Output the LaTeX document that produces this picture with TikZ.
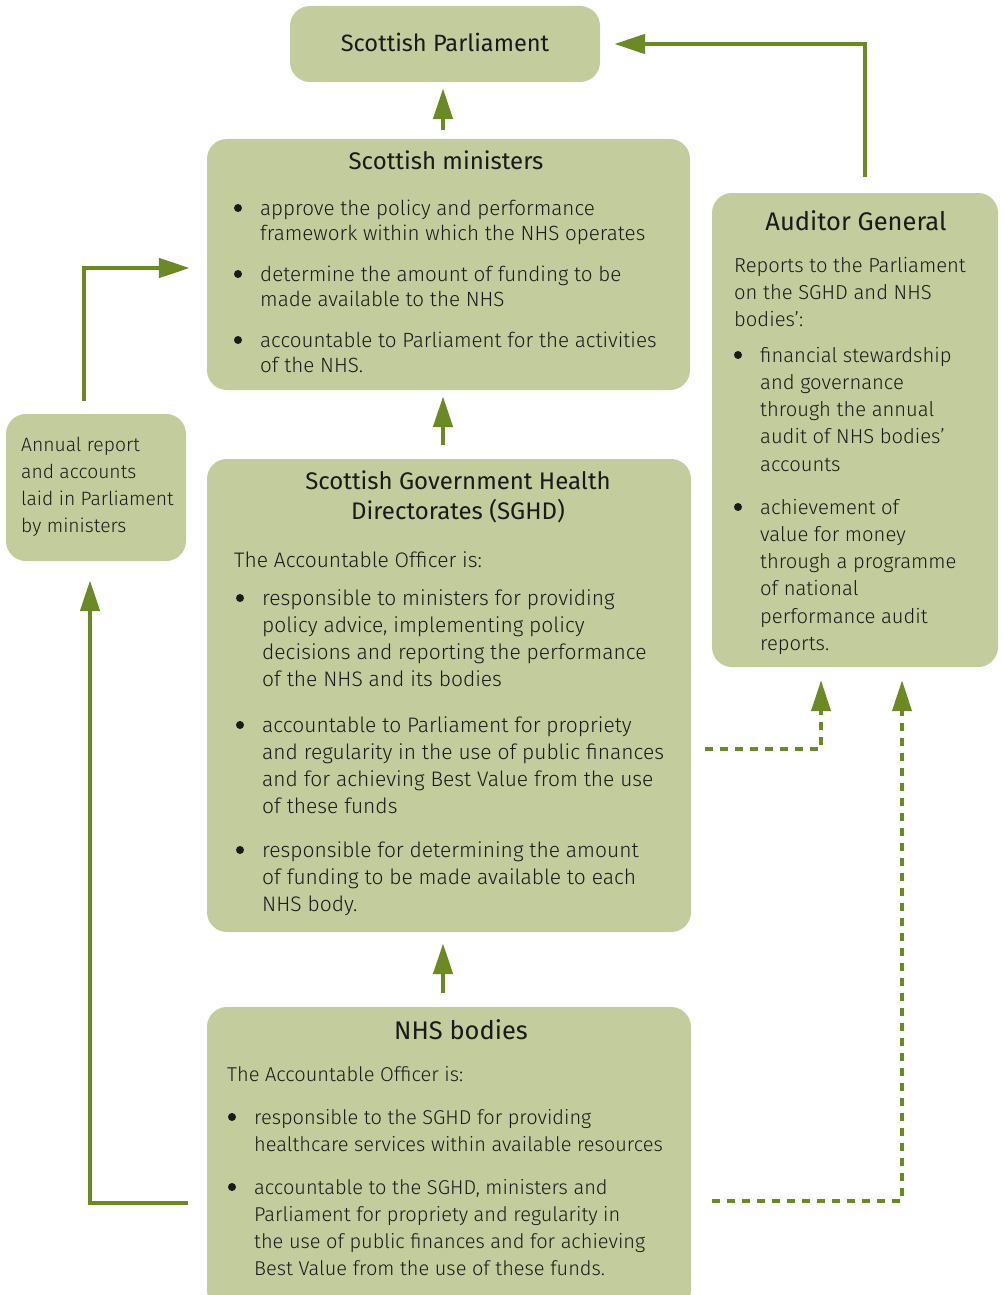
\documentclass[tikz,border=0pt]{standalone}
\usepackage{fontspec}
\setmainfont{Fira Sans}[UprightFont={* Light}, BoldFont={*}]
\newfontfamily\headfont{Fira Sans}
\usetikzlibrary{arrows.meta}
\definecolor{boxfill}{HTML}{C2CC9C}
\definecolor{arrowgreen}{HTML}{6B8A23}
\definecolor{textcol}{HTML}{1A1A1A}
\newcommand\bul[2]{\fill[textcol] (#1,#2-7) circle (4pt);}
\begin{document}
\begin{tikzpicture}[x=1pt,y=-1pt,
  box/.style={fill=boxfill, rounded corners=20pt, draw=none, inner sep=0pt},
  conn/.style={draw=arrowgreen, line width=4.5pt, -{Triangle[length=31pt,width=19pt]}, arrowgreen},
  dotconn/.style={conn, line width=4.2pt, dash pattern=on 8pt off 7pt},
  head/.style={anchor=base, inner sep=0pt, text=textcol, font=\headfont\fontsize{24}{30}\selectfont},
  body/.style={anchor=base west, inner sep=0pt, text=textcol, font=\fontsize{21}{27.3}\selectfont},
  smbody/.style={anchor=base west, inner sep=0pt, text=textcol, font=\fontsize{20.6}{25}\selectfont},
  agbody/.style={body, font=\fontsize{20.2}{27.3}\selectfont},
  annbody/.style={body, font=\fontsize{19.3}{27.3}\selectfont},
  nhsbody/.style={body, font=\fontsize{20}{27.1}\selectfont}]
\useasboundingbox (0,0) rectangle (1004,1295);
% boxes
\node[box, minimum width=310pt, minimum height=76pt] (parl) at (445,44) {};
\node[box, minimum width=483pt, minimum height=251pt] (sm) at (448.5,264.5) {};
\node[box, minimum width=286pt, minimum height=474pt] (ag) at (855,430) {};
\node[box, minimum width=180pt, minimum height=147pt] (ann) at (96,487.5) {};
\node[box, minimum width=484pt, minimum height=473pt] (sghd) at (449,695.5) {};
\node[box, minimum width=484pt, minimum height=303pt] (nhs) at (449,1158.5) {};
% Parliament
\node[head, font=\headfont\fontsize{23.6}{30}\selectfont] (parlt) at (445,52) {Scottish Parliament};
% Scottish ministers
\node[head] (smt) at (446,169) {Scottish ministers};
\bul{238}{215}
\node[smbody] (sm1) at (260,215) {\parbox[t]{420pt}{\raggedright approve the policy and performance\\framework within which the NHS operates}};
\bul{238}{281}
\node[smbody] (sm2) at (260,281) {\parbox[t]{420pt}{\raggedright determine the amount of funding to be\\made available to the NHS}};
\bul{238}{347}
\node[smbody] (sm3) at (260,347) {\parbox[t]{420pt}{\raggedright accountable to Parliament for the activities\\of the NHS.}};
% Auditor General
\node[head, font=\headfont\fontsize{25.5}{30}\selectfont] (agt) at (856,230) {Auditor General};
\node[agbody] (ag0) at (734,272) {\parbox[t]{260pt}{\raggedright Reports to the Parliament\\on the SGHD and NHS\\bodies’:}};
\bul{738}{362}
\node[agbody] (ag1) at (760,362) {\parbox[t]{230pt}{\raggedright financial stewardship\\and governance\\through the annual\\audit of NHS bodies’\\accounts}};
\bul{738}{514}
\node[agbody] (ag2) at (760,514) {\parbox[t]{230pt}{\raggedright achievement of\\value for money\\through a programme\\of national\\performance audit\\reports.}};
% Annual report
\node[annbody] (annt) at (21,451) {\parbox[t]{170pt}{\raggedright Annual report\\and accounts\\laid in Parliament\\by ministers}};
% SGHD
\node[head] (sghdt) at (458,489) {\parbox[t]{440pt}{\centering Scottish Government Health\\Directorates (SGHD)}};
\node[body] (sg0) at (234,567) {The Accountable Officer is:};
\bul{240}{605}
\node[body] (sg1) at (262,605) {\parbox[t]{420pt}{\raggedright responsible to ministers for providing\\policy advice, implementing policy\\decisions and reporting the performance\\of the NHS and its bodies}};
\bul{240}{732}
\node[body] (sg2) at (262,732) {\parbox[t]{420pt}{\raggedright accountable to Parliament for propriety\\and regularity in the use of public finances\\and for achieving Best Value from the use\\of these funds}};
\bul{240}{857}
\node[body] (sg3) at (262,857) {\parbox[t]{420pt}{\raggedright responsible for determining the amount\\of funding to be made available to each\\NHS body.}};
% NHS bodies
\node[head, font=\headfont\fontsize{25.5}{30}\selectfont] (nhst) at (461,1039) {NHS bodies};
\node[nhsbody] (nh0) at (227,1081) {The Accountable Officer is:};
\bul{232}{1124}
\node[nhsbody] (nh1) at (254,1124) {\parbox[t]{430pt}{\raggedright responsible to the SGHD for providing\\healthcare services within available resources}};
\bul{232}{1194}
\node[nhsbody] (nh2) at (254,1194) {\parbox[t]{430pt}{\raggedright accountable to the SGHD, ministers and\\Parliament for propriety and regularity in\\the use of public finances and for achieving\\Best Value from the use of these funds.}};
% connector helper coordinates
\coordinate (a1) at (443,0);
\coordinate (a2) at (865,0);
\coordinate (a3) at (84,268);
\coordinate (a4) at (90,1203);
\coordinate (a5) at (821,749);
\coordinate (a6) at (902,1201);
% connectors
\draw[conn, shorten <=9pt, shorten >=6pt] (a1 |- sm.north) -- (a1 |- parl.south);
\draw[conn, shorten <=14pt, shorten >=6pt] (a1 |- sghd.north) -- (a1 |- sm.south);
\draw[conn, shorten <=14pt, shorten >=11pt] (a1 |- nhs.north) -- (a1 |- sghd.south);
\draw[conn, shorten <=16pt, shorten >=14pt] (a2 |- ag.north) |- (parl.east);
\draw[conn, shorten <=13pt, shorten >=17pt] (a3 |- ann.north) |- (a3 -| sm.west);
\draw[conn, shorten <=19pt, shorten >=19pt] (a4 -| nhs.west) -| (a4 |- ann.south);
\draw[dotconn, shorten <=14pt, shorten >=13pt] (a5 -| sghd.east) -| (a5 |- ag.south);
\draw[dotconn, shorten <=21pt, shorten >=13pt] (a6 -| nhs.east) -| (a6 |- ag.south);
\end{tikzpicture}
\end{document}
